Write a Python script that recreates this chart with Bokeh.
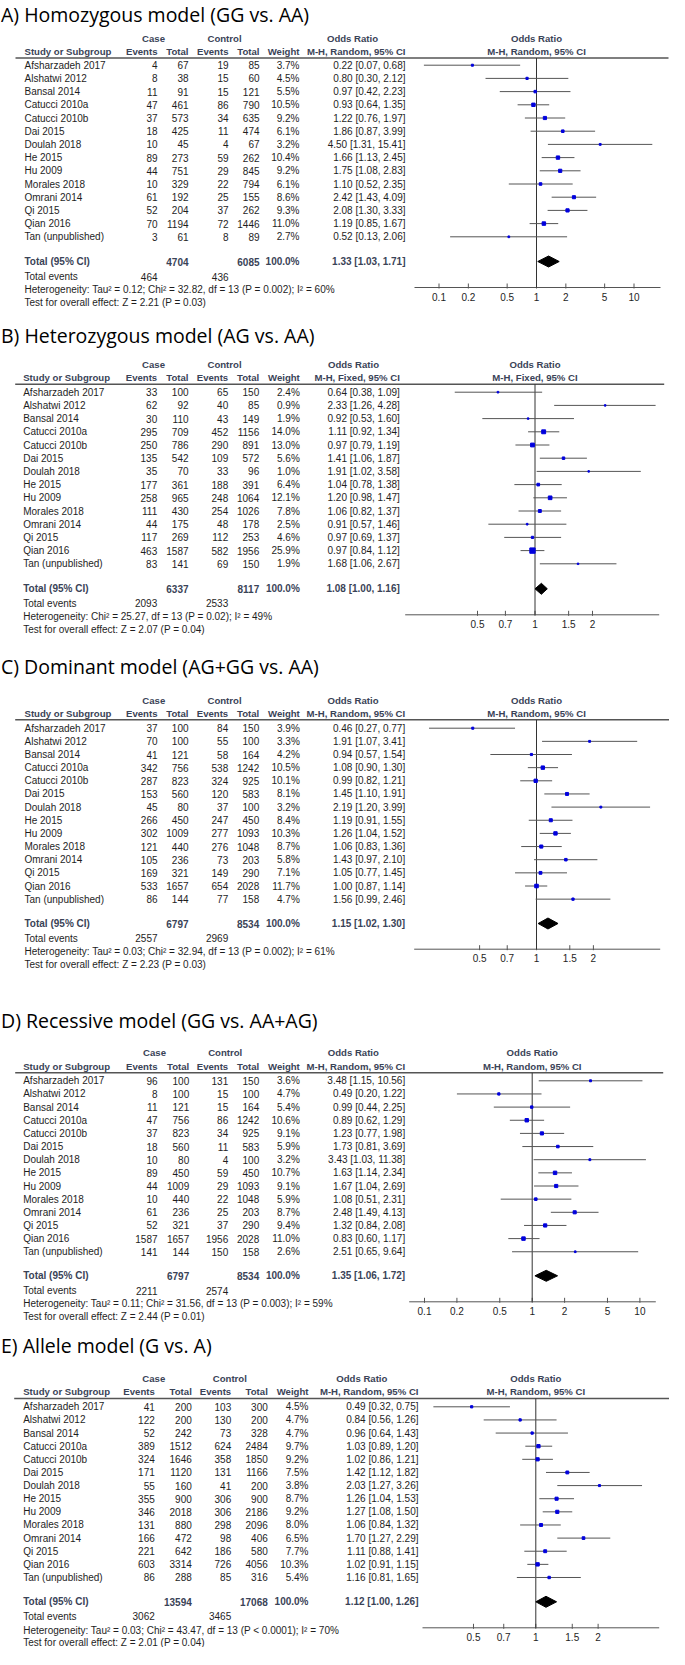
from bokeh.plotting import figure
from bokeh.models import Range1d, LogScale
from bokeh.core.properties import value
from bokeh.embed import file_html
from bokeh.resources import INLINE

# ---------------- data ----------------
studies = ["Afsharzadeh 2017", "Alshatwi 2012", "Bansal 2014", "Catucci 2010a",
           "Catucci 2010b", "Dai 2015", "Doulah 2018", "He 2015", "Hu 2009",
           "Morales 2018", "Omrani 2014", "Qi 2015", "Qian 2016", "Tan (unpublished)"]

# A) Homozygous
hom_case_events = [4, 8, 11, 47, 37, 18, 10, 89, 44, 10, 61, 52, 70, 3]
hom_case_total = [67, 38, 91, 461, 573, 425, 45, 273, 751, 329, 192, 204, 1194, 61]
hom_ctrl_events = [19, 15, 15, 86, 34, 11, 4, 59, 29, 22, 25, 37, 72, 8]
hom_ctrl_total = [85, 60, 121, 790, 635, 474, 67, 262, 845, 794, 155, 262, 1446, 89]
hom_weight = [3.7, 4.5, 5.5, 10.5, 9.2, 6.1, 3.2, 10.4, 9.2, 6.1, 8.6, 9.3, 11.0, 2.7]
hom_or = [0.22, 0.80, 0.97, 0.93, 1.22, 1.86, 4.50, 1.66, 1.75, 1.10, 2.42, 2.08, 1.19, 0.52]
hom_lo = [0.07, 0.30, 0.42, 0.64, 0.76, 0.87, 1.31, 1.13, 1.08, 0.52, 1.43, 1.30, 0.85, 0.13]
hom_hi = [0.68, 2.12, 2.23, 1.35, 1.97, 3.99, 15.41, 2.45, 2.83, 2.35, 4.09, 3.33, 1.67, 2.06]
hom_totals = [4704, 6085]
hom_events = [464, 436]
hom_summary = [1.33, 1.03, 1.71]
hom_het = "Heterogeneity: Tau\u00b2 = 0.12; Chi\u00b2 = 32.82, df = 13 (P = 0.002); I\u00b2 = 60%"
hom_test = "Test for overall effect: Z = 2.21 (P = 0.03)"
hom_ticks = [0.1, 0.2, 0.5, 1, 2, 5, 10]

# B) Heterozygous
het_case_events = [33, 62, 30, 295, 250, 135, 35, 177, 258, 111, 44, 117, 463, 83]
het_case_total = [100, 92, 110, 709, 786, 542, 70, 361, 965, 430, 175, 269, 1587, 141]
het_ctrl_events = [65, 40, 43, 452, 290, 109, 33, 188, 248, 254, 48, 112, 582, 69]
het_ctrl_total = [150, 85, 149, 1156, 891, 572, 96, 391, 1064, 1026, 178, 253, 1956, 150]
het_weight = [2.4, 0.9, 1.9, 14.0, 13.0, 5.6, 1.0, 6.4, 12.1, 7.8, 2.5, 4.6, 25.9, 1.9]
het_or = [0.64, 2.33, 0.92, 1.11, 0.97, 1.41, 1.91, 1.04, 1.20, 1.06, 0.91, 0.97, 0.97, 1.68]
het_lo = [0.38, 1.26, 0.53, 0.92, 0.79, 1.06, 1.02, 0.78, 0.98, 0.82, 0.57, 0.69, 0.84, 1.06]
het_hi = [1.09, 4.28, 1.60, 1.34, 1.19, 1.87, 3.58, 1.38, 1.47, 1.37, 1.46, 1.37, 1.12, 2.67]
het_totals = [6337, 8117]
het_events = [2093, 2533]
het_summary = [1.08, 1.00, 1.16]
het_het = "Heterogeneity: Chi\u00b2 = 25.27, df = 13 (P = 0.02); I\u00b2 = 49%"
het_test = "Test for overall effect: Z = 2.07 (P = 0.04)"
het_ticks = [0.5, 0.7, 1, 1.5, 2]

# C) Dominant
dom_case_events = [37, 70, 41, 342, 287, 153, 45, 266, 302, 121, 105, 169, 533, 86]
dom_case_total = [100, 100, 121, 756, 823, 560, 80, 450, 1009, 440, 236, 321, 1657, 144]
dom_ctrl_events = [84, 55, 58, 538, 324, 120, 37, 247, 277, 276, 73, 149, 654, 77]
dom_ctrl_total = [150, 100, 164, 1242, 925, 583, 100, 450, 1093, 1048, 203, 290, 2028, 158]
dom_weight = [3.9, 3.3, 4.2, 10.5, 10.1, 8.1, 3.2, 8.4, 10.3, 8.7, 5.8, 7.1, 11.7, 4.7]
dom_or = [0.46, 1.91, 0.94, 1.08, 0.99, 1.45, 2.19, 1.19, 1.26, 1.06, 1.43, 1.05, 1.00, 1.56]
dom_lo = [0.27, 1.07, 0.57, 0.90, 0.82, 1.10, 1.20, 0.91, 1.04, 0.83, 0.97, 0.77, 0.87, 0.99]
dom_hi = [0.77, 3.41, 1.54, 1.30, 1.21, 1.91, 3.99, 1.55, 1.52, 1.36, 2.10, 1.45, 1.14, 2.46]
dom_totals = [6797, 8534]
dom_events = [2557, 2969]
dom_summary = [1.15, 1.02, 1.30]
dom_het = "Heterogeneity: Tau\u00b2 = 0.03; Chi\u00b2 = 32.94, df = 13 (P = 0.002); I\u00b2 = 61%"
dom_test = "Test for overall effect: Z = 2.23 (P = 0.03)"
dom_ticks = [0.5, 0.7, 1, 1.5, 2]

# D) Recessive
rec_case_events = [96, 8, 11, 47, 37, 18, 10, 89, 44, 10, 61, 52, 1587, 141]
rec_case_total = [100, 100, 121, 756, 823, 560, 80, 450, 1009, 440, 236, 321, 1657, 144]
rec_ctrl_events = [131, 15, 15, 86, 34, 11, 4, 59, 29, 22, 25, 37, 1956, 150]
rec_ctrl_total = [150, 100, 164, 1242, 925, 583, 100, 450, 1093, 1048, 203, 290, 2028, 158]
rec_weight = [3.6, 4.7, 5.4, 10.6, 9.1, 5.9, 3.2, 10.7, 9.1, 5.9, 8.7, 9.4, 11.0, 2.6]
rec_or = [3.48, 0.49, 0.99, 0.89, 1.23, 1.73, 3.43, 1.63, 1.67, 1.08, 2.48, 1.32, 0.83, 2.51]
rec_lo = [1.15, 0.20, 0.44, 0.62, 0.77, 0.81, 1.03, 1.14, 1.04, 0.51, 1.49, 0.84, 0.60, 0.65]
rec_hi = [10.56, 1.22, 2.25, 1.29, 1.98, 3.69, 11.38, 2.34, 2.69, 2.31, 4.13, 2.08, 1.17, 9.64]
rec_totals = [6797, 8534]
rec_events = [2211, 2574]
rec_summary = [1.35, 1.06, 1.72]
rec_het = "Heterogeneity: Tau\u00b2 = 0.11; Chi\u00b2 = 31.56, df = 13 (P = 0.003); I\u00b2 = 59%"
rec_test = "Test for overall effect: Z = 2.44 (P = 0.01)"
rec_ticks = [0.1, 0.2, 0.5, 1, 2, 5, 10]

# E) Allele
all_case_events = [41, 122, 52, 389, 324, 171, 55, 355, 346, 131, 166, 221, 603, 86]
all_case_total = [200, 200, 242, 1512, 1646, 1120, 160, 900, 2018, 880, 472, 642, 3314, 288]
all_ctrl_events = [103, 130, 73, 624, 358, 131, 41, 306, 306, 298, 98, 186, 726, 85]
all_ctrl_total = [300, 200, 328, 2484, 1850, 1166, 200, 900, 2186, 2096, 406, 580, 4056, 316]
all_weight = [4.5, 4.7, 4.7, 9.7, 9.2, 7.5, 3.8, 8.7, 9.2, 8.0, 6.5, 7.7, 10.3, 5.4]
all_or = [0.49, 0.84, 0.96, 1.03, 1.02, 1.42, 2.03, 1.26, 1.27, 1.06, 1.70, 1.11, 1.02, 1.16]
all_lo = [0.32, 0.56, 0.64, 0.89, 0.86, 1.12, 1.27, 1.04, 1.08, 0.84, 1.27, 0.88, 0.91, 0.81]
all_hi = [0.75, 1.26, 1.43, 1.20, 1.21, 1.82, 3.26, 1.53, 1.50, 1.32, 2.29, 1.41, 1.15, 1.65]
all_totals = [13594, 17068]
all_events = [3062, 3465]
all_summary = [1.12, 1.00, 1.26]
all_het = "Heterogeneity: Tau\u00b2 = 0.03; Chi\u00b2 = 43.47, df = 13 (P < 0.0001); I\u00b2 = 70%"
all_test = "Test for overall effect: Z = 2.01 (P = 0.04)"
all_ticks = [0.5, 0.7, 1, 1.5, 2]

titles = ["A) Homozygous model (GG vs. AA)", "B) Heterozygous model (AG vs. AA)",
          "C) Dominant model (AG+GG vs. AA)", "D) Recessive model (GG vs. AA+AG)",
          "E) Allele model (G vs. A)"]
methods = ["M-H, Random, 95% CI", "M-H, Fixed, 95% CI", "M-H, Random, 95% CI",
           "M-H, Random, 95% CI", "M-H, Random, 95% CI"]
null_value = 1

# ---------------- layout (reference-page pixels) ----------------
X_LEFT, X_RIGHT = 8, 677
Y_TOP, Y_BOTTOM = 8, 1655
FONT = value("Liberation Sans")
TITLE_FONT = value("Open Sans")
HDR_COLOR = "#3a4357"
TXT_COLOR = "#1e1e1e"
LINE_COLOR = "#555555"

LAYOUTS = [
    dict(shift=6, title_y=16, case_y=40, hdr_y=53, hline_y=59.5, row0=66.7, dy=13.2,
         total_y=263, events_y=278, het_y=291, test_y=304, axis_y=289, lab_y=298,
         xs=32, xce=165, xct=196, xke=236, xkt=267, xw=307, xor=413, xcase=161, xctrl=232, xorh=360,
         hl0=23, hl1=676, one=544, dec=97.5, ax0=422, ax1=668),
    dict(shift=3, title_y=340, case_y=369, hdr_y=382.3, hline_y=388.7, row0=396.7, dy=13.2,
         total_y=593.3, events_y=607.7, het_y=621, test_y=634, axis_y=619.3, lab_y=628.3,
         xs=30.7, xce=164.7, xct=196, xke=235.7, xkt=266.7, xw=307.3, xor=407.3, xcase=161, xctrl=232, xorh=361,
         hl0=22.7, hl1=671.7, one=542.5, dec=191, ax0=412.7, ax1=666.7),
    dict(shift=0, title_y=674, case_y=707.7, hdr_y=721, hline_y=727.3, row0=735.7, dy=13.15,
         total_y=931, events_y=945.7, het_y=959, test_y=972.3, axis_y=956.7, lab_y=965.7,
         xs=32, xce=165, xct=196, xke=235.7, xkt=266.7, xw=307.3, xor=412.7, xcase=161.3, xctrl=232, xorh=360.5,
         hl0=22.7, hl1=677, one=544, dec=189, ax0=421.7, ax1=667.7),
    dict(shift=-4, title_y=1031.7, case_y=1064.3, hdr_y=1077.7, hline_y=1084.3, row0=1092.3, dy=13.15,
         total_y=1287.3, events_y=1302.3, het_y=1315, test_y=1327.7, axis_y=1313.3, lab_y=1322.7,
         xs=30.7, xce=165, xct=196.7, xke=235.7, xkt=266.7, xw=307.3, xor=412.7, xcase=162, xctrl=232.7, xorh=360.8,
         hl0=22.7, hl1=670.7, one=539.7, dec=107.7, ax0=416.7, ax1=663.3),
    dict(shift=-9, title_y=1361.7, case_y=1395.3, hdr_y=1408.3, hline_y=1415, row0=1423.3, dy=13.13,
         total_y=1618.3, events_y=1632.7, het_y=1646.7, test_y=1659.3, axis_y=1644.3, lab_y=1653.3,
         xs=30.7, xce=162.3, xct=199.3, xke=238.7, xkt=275.3, xw=316, xor=426, xcase=161.3, xctrl=237.3, xorh=369.3,
         hl0=21.7, hl1=677, one=543.3, dec=207, ax0=430, ax1=666.7),
]

p = figure(width=X_RIGHT - X_LEFT, height=Y_BOTTOM - Y_TOP,
           x_range=Range1d(X_LEFT, X_RIGHT), y_range=Range1d(Y_BOTTOM, Y_TOP),
           output_backend="svg", toolbar_location=None,
           x_axis_location=None, y_axis_location=None, min_border=0)
p.grid.visible = False
p.outline_line_color = None
p.background_fill_color = "white"
p.border_fill_color = "white"


def txt(xs, ys, texts, align, bold=False, color=TXT_COLOR, size="10px", font=FONT, **kw):
    p.text(x=xs, y=ys, text=texts, text_align=align, text_baseline="middle",
           text_font=font, text_font_size=size, text_color=color,
           text_font_style="bold" if bold else "normal", **kw)


def build_panel(k, title, method, case_ev, case_tot, ctrl_ev, ctrl_tot, weight, orv, lo, hi,
                totals, events, summary, het_text, test_text, ticks, L):
    s = L["shift"]

    def Y(v):
        return v + s

    n = len(studies)
    ys = [Y(L["row0"] + i * L["dy"]) for i in range(n)]

    def px2v(px):
        return 10 ** ((px - L["one"]) / L["dec"])

    rname = f"or{k}"
    p.extra_x_ranges[rname] = Range1d(px2v(X_LEFT), px2v(X_RIGHT))
    p.extra_x_scales[rname] = LogScale()
    OR = dict(x_range_name=rname)

    # title
    txt([X_LEFT + 0.5], [Y(L["title_y"])], [title], "left", color="#000000", size="19.5px",
        font=TITLE_FONT)
    # headers
    txt([L["xcase"], L["xctrl"], L["xorh"]], [Y(L["case_y"])] * 3, ["Case", "Control", "Odds Ratio"],
        "center", bold=True, color=HDR_COLOR, size="9.6px")
    txt([L["xs"]], [Y(L["hdr_y"])], ["Study or Subgroup"], "left", bold=True, color=HDR_COLOR, size="9.6px")
    txt([L["xce"], L["xct"], L["xke"], L["xkt"], L["xw"], L["xor"]], [Y(L["hdr_y"])] * 6,
        ["Events", "Total", "Events", "Total", "Weight", method], "right", bold=True,
        color=HDR_COLOR, size="9.6px")
    txt([null_value], [Y(L["case_y"])], ["Odds Ratio"], "center", bold=True, color=HDR_COLOR,
        size="9.6px", **OR)
    txt([null_value], [Y(L["hdr_y"])], [method], "center", bold=True, color=HDR_COLOR, size="9.6px", **OR)
    p.segment(x0=[L["hl0"]], y0=[Y(L["hline_y"])], x1=[min(L["hl1"], X_RIGHT)], y1=[Y(L["hline_y"])],
              line_color=LINE_COLOR, line_width=1.5)
    # study rows
    txt([L["xs"]] * n, ys, studies, "left")
    txt([L["xce"]] * n, ys, [str(v) for v in case_ev], "right")
    txt([L["xct"]] * n, ys, [str(v) for v in case_tot], "right")
    txt([L["xke"]] * n, ys, [str(v) for v in ctrl_ev], "right")
    txt([L["xkt"]] * n, ys, [str(v) for v in ctrl_tot], "right")
    txt([L["xw"]] * n, ys, [f"{w:.1f}%" for w in weight], "right")
    txt([L["xor"]] * n, ys, [f"{o:.2f} [{a:.2f}, {b:.2f}]" for o, a, b in zip(orv, lo, hi)], "right")
    # totals
    ty = Y(L["total_y"])
    txt([L["xs"]], [ty], ["Total (95% CI)"], "left", bold=True, color=HDR_COLOR)
    txt([L["xct"], L["xkt"], L["xw"], L["xor"]], [ty] * 4,
        [str(totals[0]), str(totals[1]), "100.0%",
         f"{summary[0]:.2f} [{summary[1]:.2f}, {summary[2]:.2f}]"], "right", bold=True, color=HDR_COLOR)
    txt([L["xs"]], [Y(L["events_y"])], ["Total events"], "left")
    txt([L["xce"], L["xke"]], [Y(L["events_y"])] * 2, [str(events[0]), str(events[1])], "right")
    txt([L["xs"]], [Y(L["het_y"])], [het_text], "left")
    txt([L["xs"]], [Y(L["test_y"])], [test_text], "left")

    # odds-ratio axis (log scale of this panel)
    ay = Y(L["axis_y"])
    p.segment(x0=[L["ax0"]], y0=[ay], x1=[min(L["ax1"], X_RIGHT)], y1=[ay],
              line_color=LINE_COLOR, line_width=1)
    p.segment(x0=ticks, y0=[ay - 4] * len(ticks), x1=ticks, y1=[ay + 1] * len(ticks),
              line_color=LINE_COLOR, line_width=1, **OR)
    txt(ticks, [Y(L["lab_y"])] * len(ticks), [f"{t:g}" for t in ticks], "center", **OR)

    # forest marks
    p.segment(x0=[null_value], y0=[Y(L["hline_y"])], x1=[null_value], y1=[ay],
              line_color="#333333", line_width=1, **OR)
    p.segment(x0=lo, y0=ys, x1=hi, y1=ys, line_color=LINE_COLOR, line_width=1, **OR)
    sizes = [max(1.5, 1.05 * w ** 0.5) for w in weight]
    p.scatter(x=orv, y=ys, size=sizes, marker="square", color="#0000dd", **OR)
    p.patch(x=[summary[1], summary[0], summary[2], summary[0]],
            y=[ty, ty - 5.5, ty, ty + 5.5], color="black", **OR)


p.extra_x_ranges = {}
p.extra_x_scales = {}
build_panel(0, titles[0], methods[0], hom_case_events, hom_case_total, hom_ctrl_events, hom_ctrl_total,
            hom_weight, hom_or, hom_lo, hom_hi, hom_totals, hom_events, hom_summary, hom_het,
            hom_test, hom_ticks, LAYOUTS[0])
build_panel(1, titles[1], methods[1], het_case_events, het_case_total, het_ctrl_events, het_ctrl_total,
            het_weight, het_or, het_lo, het_hi, het_totals, het_events, het_summary, het_het,
            het_test, het_ticks, LAYOUTS[1])
build_panel(2, titles[2], methods[2], dom_case_events, dom_case_total, dom_ctrl_events, dom_ctrl_total,
            dom_weight, dom_or, dom_lo, dom_hi, dom_totals, dom_events, dom_summary, dom_het,
            dom_test, dom_ticks, LAYOUTS[2])
build_panel(3, titles[3], methods[3], rec_case_events, rec_case_total, rec_ctrl_events, rec_ctrl_total,
            rec_weight, rec_or, rec_lo, rec_hi, rec_totals, rec_events, rec_summary, rec_het,
            rec_test, rec_ticks, LAYOUTS[3])
build_panel(4, titles[4], methods[4], all_case_events, all_case_total, all_ctrl_events, all_ctrl_total,
            all_weight, all_or, all_lo, all_hi, all_totals, all_events, all_summary, all_het,
            all_test, all_ticks, LAYOUTS[4])

with open("out.html", "w") as fh:
    fh.write(file_html(p, INLINE))
